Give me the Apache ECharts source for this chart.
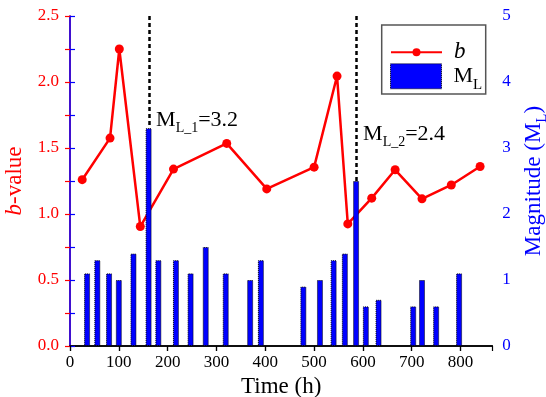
<!DOCTYPE html>
<html><head><meta charset="utf-8">
<script src="https://cdn.jsdelivr.net/npm/echarts@6/dist/echarts.min.js"></script>
<style>html,body{margin:0;padding:0;background:#fff}#c{width:546px;height:397px}</style>
</head><body><div id="c"></div>
<script>
// ---- data ----
const bTimes = [25, 82, 101, 144, 212, 321, 403, 500, 547, 569, 618, 666, 721, 781, 840];
const bValues = [1.26, 1.575, 2.25, 0.905, 1.34, 1.535, 1.19, 1.355, 2.045, 0.925, 1.12, 1.335, 1.115, 1.22, 1.36];
const mTimes = [35, 56, 80, 100, 130, 161, 181, 217, 247, 278, 319, 369, 391, 478, 512, 540, 563, 586, 606, 632, 703, 721, 750, 797];
const magnitudes = [1.1, 1.3, 1.1, 1.0, 1.4, 3.3, 1.3, 1.3, 1.1, 1.5, 1.1, 1.0, 1.3, 0.9, 1.0, 1.3, 1.4, 2.5, 0.6, 0.7, 0.6, 1.0, 0.6, 1.1];
const quakeTimes = [162, 586];
const quakeMags = [3.3, 2.5];
const quakeLabels = ['3.2', '2.4'];
const timeTicks = [0, 100, 200, 300, 400, 500, 600, 700, 800];
const bTickLabels = ['0.0', '0.5', '1.0', '1.5', '2.0', '2.5'];
const mTickLabels = ['0', '1', '2', '3', '4', '5'];

const F = 'Liberation Serif';
const chart = echarts.init(document.getElementById('c'), null, {renderer: 'canvas'});
const lineData = bTimes.map((t, i) => [t, bValues[i]]);
const barData = mTimes.map((t, i) => [t, magnitudes[i]]);
const xMax = 865;

const option = {
  animation: false,
  textStyle: {fontFamily: F},
  grid: {left: 70, right: 53.7, top: 16, bottom: 51, containLabel: false, outerBoundsMode: 'none'},
  legend: [
    {
      data: [{name: 'b'}], left: 385, top: 35.7, itemWidth: 51, itemHeight: 10,
      selectedMode: false, z: 10,
      textStyle: {fontFamily: F, fontSize: 23, fontStyle: 'italic', color: '#000', padding: [0, 0, 0, 7]}
    },
    {
      data: [{name: 'ML', icon: 'rect'}], left: 385, top: 58.3, itemWidth: 51, itemHeight: 25,
      selectedMode: false, z: 10,
      itemStyle: {borderColor: '#000', borderWidth: 1, borderType: 'dotted'},
      formatter: () => '{m|M}{s|L}',
      textStyle: {
        color: '#000', padding: [0, 0, 0, 7],
        rich: {
          m: {fontFamily: F, fontSize: 22, color: '#000', verticalAlign: 'top', lineHeight: 22},
          s: {fontFamily: F, fontSize: 15, color: '#000', verticalAlign: 'top', lineHeight: 15, padding: [12, 0, 0, 0]}
        }
      }
    }
  ],
  xAxis: [
    {
      type: 'value', min: 0, max: xMax, interval: 100, position: 'bottom',
      name: 'Time (h)', nameLocation: 'middle', nameGap: 27,
      nameTextStyle: {fontFamily: F, fontSize: 23, color: '#000'},
      axisLine: {show: true, lineStyle: {color: '#000', width: 1.5}},
      axisTick: {show: true, inside: false, length: 5, lineStyle: {color: '#000', width: 1.2}},
      axisLabel: {show: true, margin: 8, showMaxLabel: false, fontFamily: F, fontSize: 17, color: '#000',
        formatter: v => (timeTicks.indexOf(v) >= 0 ? String(v) : '')},
      splitLine: {show: false}
    },
    {
      type: 'value', min: 0, max: xMax, interval: 100, position: 'top',
      axisLine: {show: true, lineStyle: {color: '#000', width: 1.5}},
      axisTick: {show: true, inside: true, length: 5, lineStyle: {color: '#000', width: 1.2}},
      axisLabel: {show: false},
      splitLine: {show: false}
    }
  ],
  yAxis: [
    {
      type: 'value', min: 0, max: 2.5, interval: 0.25, position: 'left',
      name: '{i|b}{n|-value}', nameLocation: 'middle', nameGap: 32, nameRotate: 90,
      nameTextStyle: {
        color: '#ff0000',
        rich: {
          i: {fontFamily: F, fontSize: 23, fontStyle: 'italic', color: '#ff0000'},
          n: {fontFamily: F, fontSize: 23, color: '#ff0000'}
        }
      },
      axisLine: {show: true, lineStyle: {color: '#ff0000', width: 1.5}},
      axisTick: {show: true, inside: false, length: 5, lineStyle: {color: '#ff0000', width: 1.2}},
      axisLabel: {margin: 11, fontFamily: F, fontSize: 17, color: '#ff0000',
        formatter: v => { const s = v.toFixed(1); return (bTickLabels.indexOf(s) >= 0 && Math.abs(v * 2 - Math.round(v * 2)) < 1e-6) ? s : ''; }},
      splitLine: {show: false}
    },
    {
      type: 'value', min: 0, max: 5, interval: 0.5, position: 'right',
      name: '{n|Magnitude (M}{s|L}{n|)}', nameLocation: 'middle', nameGap: 30, nameRotate: 90,
      nameTextStyle: {
        color: '#0000ff',
        rich: {
          n: {fontFamily: F, fontSize: 23, color: '#0000ff', verticalAlign: 'top', lineHeight: 23},
          s: {fontFamily: F, fontSize: 15, color: '#0000ff', verticalAlign: 'top', lineHeight: 15, padding: [12, 0, 0, 0]}
        }
      },
      axisLine: {show: true, lineStyle: {color: '#0000ff', width: 1.5}},
      axisTick: {show: true, inside: false, length: 5, lineStyle: {color: '#0000ff', width: 1.2}},
      axisLabel: {margin: 10, fontFamily: F, fontSize: 17, color: '#0000ff',
        formatter: v => (Number.isInteger(v) && mTickLabels.indexOf(String(v)) >= 0 ? String(v) : '')},
      splitLine: {show: false}
    }
  ],
  series: [
    {
      name: 'b', type: 'line', xAxisIndex: 0, yAxisIndex: 0, data: lineData,
      symbol: 'circle', symbolSize: 9, z: 2,
      lineStyle: {color: '#ff0000', width: 2.5},
      itemStyle: {color: '#ff0000'}
    },
    {
      name: 'ML', type: 'bar', xAxisIndex: 0, yAxisIndex: 1, data: barData,
      barWidth: 6, z: 3,
      itemStyle: {color: '#0000ff', borderColor: '#000', borderWidth: 1, borderType: 'dotted'},
      markLine: {
        silent: true, symbol: 'none', animation: false,
        label: {show: false},
        lineStyle: {color: '#000', width: 2.5, type: [4, 3]},
        data: quakeTimes.map((t, i) => [{coord: [t, 5]}, {coord: [t, quakeMags[i]]}])
      }
    }
  ]
};
chart.setOption(option);

// legend frame and annotations
const annLevels = [3.59, 3.38];
const rich = {
  a: {fontFamily: F, fontSize: 22, fill: '#000', verticalAlign: 'top', lineHeight: 22},
  s: {fontFamily: F, fontSize: 14, fill: '#000', verticalAlign: 'top', lineHeight: 14, padding: [12, 0, 0, 0]}
};
const graphics = [{
  type: 'rect', z: 1,
  shape: {x: 381.7, y: 25, width: 104, height: 69},
  style: {fill: '#fff', stroke: '#555', lineWidth: 1.5}
}];
quakeTimes.forEach((t, i) => {
  const p = chart.convertToPixel({seriesIndex: 1}, [t, annLevels[i]]);
  graphics.push({
    type: 'text', z: 20, x: p[0] + 7, y: p[1],
    style: {text: '{a|M}{s|L_' + (i + 1) + '}{a|=' + quakeLabels[i] + '}', rich: rich, verticalAlign: 'top', align: 'left'}
  });
});
chart.setOption({graphic: graphics});
</script>
</body></html>
